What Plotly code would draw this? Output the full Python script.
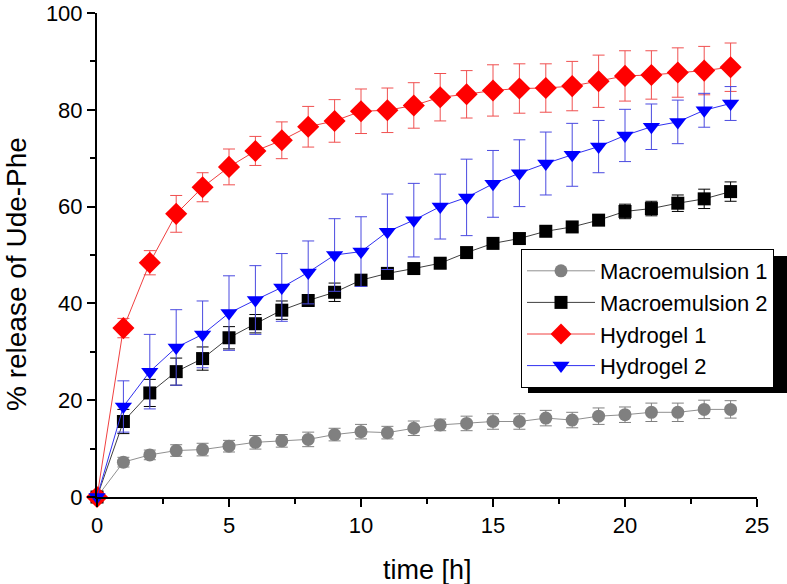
import plotly.graph_objects as go

time_h = list(range(0, 25))

macro1 = [0, 7.2, 8.7, 9.6, 9.8, 10.5, 11.3, 11.6, 11.9, 12.9, 13.5, 13.3, 14.2, 14.9,
          15.2, 15.6, 15.6, 16.3, 15.9, 16.7, 17.0, 17.5, 17.5, 18.1, 18.1]
macro1_err = [0, 1.0, 1.0, 1.2, 1.3, 1.2, 1.4, 1.3, 1.5, 1.3, 1.5, 1.3, 1.5, 1.2,
              1.5, 1.6, 1.6, 1.6, 1.6, 1.7, 1.6, 1.9, 1.9, 1.9, 1.8]

macro2 = [0, 15.6, 21.5, 25.9, 28.6, 32.9, 35.8, 38.6, 40.6, 42.3, 44.8, 46.2, 47.2, 48.3,
          50.5, 52.4, 53.4, 54.9, 55.8, 57.2, 59.0, 59.6, 60.7, 61.6, 63.1]
macro2_err = [0, 2.5, 2.8, 2.8, 2.4, 2.3, 1.9, 1.9, 1.0, 1.9, 1.0, 1.0, 1.0, 1.0,
              1.0, 1.0, 1.0, 1.0, 1.0, 1.0, 1.5, 1.5, 1.7, 2.0, 2.0]

hydro1 = [0, 34.9, 48.4, 58.5, 64.0, 68.2, 71.5, 73.7, 76.5, 77.7, 79.7, 79.9, 80.9, 82.6,
          83.2, 84.0, 84.4, 84.5, 84.9, 85.9, 87.0, 87.2, 87.7, 88.1, 88.8]
hydro1_err = [0, 2.0, 2.5, 3.8, 3.0, 3.7, 3.0, 3.8, 4.2, 4.4, 4.6, 4.6, 4.7, 4.9,
              4.9, 5.3, 5.1, 5.0, 5.1, 5.4, 5.2, 5.0, 5.1, 5.0, 5.0]

hydro2 = [0, 18.7, 25.9, 30.9, 33.6, 38.0, 40.7, 43.3, 46.4, 50.0, 50.7, 54.8, 57.2, 60.0,
          61.9, 64.7, 66.9, 68.9, 70.7, 72.4, 74.7, 76.5, 77.5, 79.9, 81.3]
hydro2_err = [0, 5.3, 7.7, 7.8, 6.9, 7.7, 7.1, 7.0, 6.5, 7.5, 7.2, 7.8, 7.6, 6.7,
              7.9, 6.9, 6.9, 6.5, 6.5, 5.4, 5.4, 4.7, 4.5, 3.5, 3.5]

names = ["Macroemulsion 1", "Macroemulsion 2", "Hydrogel 1", "Hydrogel 2"]
x_title = "time [h]"
y_title = "% release of Ude-Phe"

FONT = "Arial, Liberation Sans, sans-serif"

# plot area in page pixels
L, R, T, B = 97, 757, 13, 497
W, H = 787, 584


def px(x):
    return (x - L) / (R - L)


def py(y):
    return (B - y) / (B - T)


series = [
    (names[0], macro1, macro1_err, "#808080", "#909090", "#808080", "circle", 13),
    (names[1], macro2, macro2_err, "#000000", "#404040", "#000000", "square", 13),
    (names[2], hydro1, hydro1_err, "#ff0000", "#f04040", "#f05050", "diamond", 17),
    (names[3], hydro2, hydro2_err, "#0000ff", "#3030f0", "#4a4ae0", "triangle-down", 15),
]

fig = go.Figure()
for name, y, err, mcol, lcol, ecol, sym, size in series:
    fig.add_trace(go.Scatter(
        x=time_h, y=y, name=name, mode="lines+markers",
        line=dict(color=lcol, width=1),
        marker=dict(color=mcol, symbol=sym, size=size, line=dict(width=0)),
        error_y=dict(type="data", array=err, visible=True, color=ecol,
                     thickness=1, width=6),
        cliponaxis=False,
    ))

fig.update_layout(
    width=W, height=H,
    margin=dict(l=L, r=W - R, t=T, b=H - B, autoexpand=False),
    paper_bgcolor="white", plot_bgcolor="white",
    font=dict(family=FONT, color="black", size=20),
    showlegend=True,
    legend=dict(
        x=px(521), y=py(249), xanchor="left", yanchor="top",
        bgcolor="white", bordercolor="black", borderwidth=1,
        font=dict(size=22, family=FONT), itemwidth=68,
        tracegroupgap=0,
    ),
    shapes=[dict(type="rect", xref="paper", yref="paper",
                 x0=px(528), x1=px(800), y0=py(393), y1=py(256),
                 fillcolor="black", line=dict(width=0), layer="above")],
    annotations=[
        dict(text=x_title, xref="paper", yref="paper", x=px(427), y=py(570),
             xanchor="center", yanchor="middle", showarrow=False,
             font=dict(size=27, family=FONT)),
        dict(text=y_title, xref="paper", yref="paper", x=px(17),
             y=py(274), xanchor="center", yanchor="middle",
             textangle=-90, showarrow=False, font=dict(size=28, family=FONT)),
    ],
)

fig.update_xaxes(
    range=[0, 25], showgrid=False, zeroline=False, automargin=False,
    showline=True, linecolor="black", linewidth=2,
    ticks="outside", ticklen=8, tickwidth=2, tickcolor="black",
    tick0=0, dtick=5, tickfont=dict(size=22, family=FONT),
    ticklabeloverflow="allow",
    minor=dict(ticks="outside", ticklen=5, tickwidth=2, tickcolor="black", dtick=2.5),
)
fig.update_yaxes(
    range=[0, 100], showgrid=False, zeroline=False, automargin=False,
    showline=True, linecolor="black", linewidth=2,
    ticks="outside", ticklen=8, tickwidth=2, tickcolor="black",
    tick0=0, dtick=20, tickfont=dict(size=22, family=FONT),
    ticklabeloverflow="allow",
    minor=dict(ticks="outside", ticklen=5, tickwidth=2, tickcolor="black", dtick=10),
)

fig.write_html("out.html", config={"displayModeBar": False},
               post_script="document.body.style.margin='0';")
